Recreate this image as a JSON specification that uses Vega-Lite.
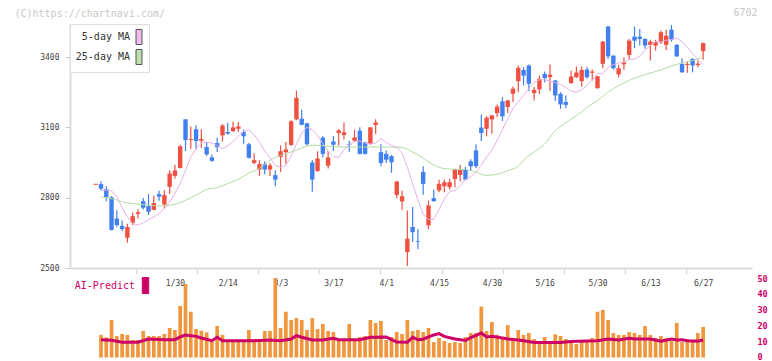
{
  "$schema": "https://vega.github.io/schema/vega-lite/v6.json",
  "width": 682,
  "height": 348,
  "autosize": {"type": "none"},
  "padding": {"left": 70, "top": 10, "right": 20, "bottom": 3},
  "background": "white",
  "config": {
    "view": {"stroke": null},
    "font": "DejaVu Sans Mono",
    "axis": {"labelFont": "DejaVu Sans Mono", "titleFont": "DejaVu Sans Mono"},
    "legend": {"labelFont": "DejaVu Sans Mono"}
  },
  "datasets": {
    "candles": [
      {"i":0,"o":2855,"h":2859,"l":2855,"c":2859},
      {"i":1,"o":2858,"h":2870,"l":2831,"c":2838},
      {"i":2,"o":2836,"h":2849,"l":2785,"c":2802},
      {"i":3,"o":2802,"h":2806,"l":2660,"c":2662},
      {"i":4,"o":2711,"h":2746,"l":2675,"c":2683},
      {"i":5,"o":2680,"h":2703,"l":2658,"c":2666},
      {"i":6,"o":2629,"h":2689,"l":2608,"c":2675},
      {"i":7,"o":2693,"h":2737,"l":2683,"c":2721},
      {"i":8,"o":2731,"h":2751,"l":2711,"c":2738},
      {"i":9,"o":2785,"h":2799,"l":2750,"c":2757},
      {"i":10,"o":2764,"h":2815,"l":2726,"c":2740},
      {"i":11,"o":2748,"h":2808,"l":2746,"c":2777},
      {"i":12,"o":2815,"h":2830,"l":2787,"c":2804},
      {"i":13,"o":2771,"h":2832,"l":2754,"c":2811},
      {"i":14,"o":2846,"h":2917,"l":2816,"c":2903},
      {"i":15,"o":2893,"h":2941,"l":2882,"c":2916},
      {"i":16,"o":2927,"h":3026,"l":2924,"c":3019},
      {"i":17,"o":3134,"h":3136,"l":2999,"c":3046},
      {"i":18,"o":3046,"h":3104,"l":3009,"c":3050},
      {"i":19,"o":3092,"h":3109,"l":3004,"c":3042},
      {"i":20,"o":3043,"h":3092,"l":3012,"c":3050},
      {"i":21,"o":3016,"h":3038,"l":2978,"c":2985},
      {"i":22,"o":2972,"h":2984,"l":2953,"c":2957},
      {"i":23,"o":3033,"h":3056,"l":2995,"c":3016},
      {"i":24,"o":3066,"h":3114,"l":3040,"c":3108},
      {"i":25,"o":3080,"h":3120,"l":3069,"c":3073},
      {"i":26,"o":3084,"h":3125,"l":3080,"c":3100},
      {"i":27,"o":3094,"h":3123,"l":3080,"c":3104},
      {"i":28,"o":3080,"h":3091,"l":3030,"c":3062},
      {"i":29,"o":3028,"h":3033,"l":2967,"c":2970},
      {"i":30,"o":2948,"h":2988,"l":2943,"c":2960},
      {"i":31,"o":2920,"h":2960,"l":2893,"c":2943},
      {"i":32,"o":2943,"h":2955,"l":2900,"c":2920},
      {"i":33,"o":2920,"h":2948,"l":2893,"c":2938},
      {"i":34,"o":2896,"h":2917,"l":2849,"c":2877},
      {"i":35,"o":2974,"h":3023,"l":2910,"c":2998},
      {"i":36,"o":2994,"h":3038,"l":2945,"c":3006},
      {"i":37,"o":3025,"h":3130,"l":3021,"c":3126},
      {"i":38,"o":3134,"h":3257,"l":3130,"c":3226},
      {"i":39,"o":3137,"h":3175,"l":3109,"c":3111},
      {"i":40,"o":3117,"h":3120,"l":3023,"c":3028},
      {"i":41,"o":2950,"h":2960,"l":2825,"c":2877},
      {"i":42,"o":2914,"h":2998,"l":2910,"c":2967},
      {"i":43,"o":3056,"h":3062,"l":2971,"c":2987},
      {"i":44,"o":2936,"h":2999,"l":2924,"c":2971},
      {"i":45,"o":3040,"h":3062,"l":2999,"c":3026},
      {"i":46,"o":3076,"h":3093,"l":3023,"c":3087},
      {"i":47,"o":3067,"h":3121,"l":3048,"c":3079},
      {"i":48,"o":3029,"h":3043,"l":2996,"c":3026},
      {"i":49,"o":3043,"h":3090,"l":3039,"c":3057},
      {"i":50,"o":3086,"h":3100,"l":2984,"c":2987},
      {"i":51,"o":3036,"h":3039,"l":2984,"c":2987},
      {"i":52,"o":3029,"h":3102,"l":3026,"c":3100},
      {"i":53,"o":3110,"h":3135,"l":3072,"c":3121},
      {"i":54,"o":2994,"h":3028,"l":2934,"c":2948},
      {"i":55,"o":2987,"h":3001,"l":2948,"c":2962},
      {"i":56,"o":2977,"h":2982,"l":2906,"c":2951},
      {"i":57,"o":2812,"h":2871,"l":2798,"c":2869},
      {"i":58,"o":2784,"h":2831,"l":2748,"c":2806},
      {"i":59,"o":2568,"h":2745,"l":2509,"c":2625},
      {"i":60,"o":2675,"h":2760,"l":2611,"c":2653},
      {"i":61,"o":2615,"h":2665,"l":2580,"c":2612},
      {"i":62,"o":2909,"h":2934,"l":2812,"c":2859},
      {"i":63,"o":2682,"h":2788,"l":2665,"c":2767},
      {"i":64,"o":2798,"h":2835,"l":2783,"c":2785},
      {"i":65,"o":2831,"h":2876,"l":2823,"c":2859},
      {"i":66,"o":2849,"h":2876,"l":2823,"c":2866},
      {"i":67,"o":2845,"h":2880,"l":2835,"c":2866},
      {"i":68,"o":2880,"h":2923,"l":2845,"c":2920},
      {"i":69,"o":2897,"h":2940,"l":2869,"c":2920},
      {"i":70,"o":2920,"h":2931,"l":2875,"c":2877},
      {"i":71,"o":2955,"h":2964,"l":2914,"c":2934},
      {"i":72,"o":3002,"h":3028,"l":2927,"c":2934},
      {"i":73,"o":3099,"h":3155,"l":3042,"c":3076},
      {"i":74,"o":3094,"h":3148,"l":3062,"c":3141},
      {"i":75,"o":3134,"h":3153,"l":3073,"c":3151},
      {"i":76,"o":3161,"h":3198,"l":3144,"c":3189},
      {"i":77,"o":3211,"h":3229,"l":3127,"c":3147},
      {"i":78,"o":3187,"h":3217,"l":3161,"c":3215},
      {"i":79,"o":3243,"h":3274,"l":3208,"c":3265},
      {"i":80,"o":3297,"h":3364,"l":3250,"c":3354},
      {"i":81,"o":3345,"h":3357,"l":3279,"c":3321},
      {"i":82,"o":3364,"h":3368,"l":3255,"c":3286},
      {"i":83,"o":3246,"h":3272,"l":3215,"c":3260},
      {"i":84,"o":3262,"h":3321,"l":3243,"c":3307},
      {"i":85,"o":3328,"h":3338,"l":3293,"c":3310},
      {"i":86,"o":3314,"h":3368,"l":3255,"c":3325},
      {"i":87,"o":3300,"h":3302,"l":3212,"c":3236},
      {"i":88,"o":3243,"h":3250,"l":3179,"c":3198},
      {"i":89,"o":3208,"h":3236,"l":3182,"c":3196},
      {"i":90,"o":3289,"h":3342,"l":3286,"c":3317},
      {"i":91,"o":3314,"h":3360,"l":3311,"c":3334},
      {"i":92,"o":3297,"h":3360,"l":3274,"c":3345},
      {"i":93,"o":3347,"h":3357,"l":3307,"c":3314},
      {"i":94,"o":3333,"h":3347,"l":3300,"c":3338},
      {"i":95,"o":3267,"h":3320,"l":3265,"c":3318},
      {"i":96,"o":3371,"h":3468,"l":3352,"c":3466},
      {"i":97,"o":3530,"h":3534,"l":3392,"c":3403},
      {"i":98,"o":3406,"h":3408,"l":3347,"c":3352},
      {"i":99,"o":3326,"h":3367,"l":3314,"c":3352},
      {"i":100,"o":3369,"h":3399,"l":3345,"c":3377},
      {"i":101,"o":3409,"h":3477,"l":3392,"c":3470},
      {"i":102,"o":3487,"h":3530,"l":3438,"c":3470},
      {"i":103,"o":3487,"h":3520,"l":3449,"c":3477},
      {"i":104,"o":3477,"h":3480,"l":3435,"c":3449},
      {"i":105,"o":3452,"h":3474,"l":3385,"c":3466},
      {"i":106,"o":3449,"h":3474,"l":3428,"c":3463},
      {"i":107,"o":3463,"h":3513,"l":3456,"c":3506},
      {"i":108,"o":3452,"h":3517,"l":3430,"c":3491},
      {"i":109,"o":3517,"h":3537,"l":3466,"c":3474},
      {"i":110,"o":3452,"h":3456,"l":3401,"c":3403},
      {"i":111,"o":3371,"h":3395,"l":3333,"c":3335},
      {"i":112,"o":3366,"h":3381,"l":3333,"c":3371},
      {"i":113,"o":3392,"h":3395,"l":3335,"c":3364},
      {"i":114,"o":3366,"h":3385,"l":3357,"c":3372},
      {"i":115,"o":3425,"h":3462,"l":3389,"c":3460}
    ],
    "ma5": [
      {"i":1,"v":2832},{"i":2,"v":2832},{"i":3,"v":2829},{"i":4,"v":2803},{"i":5,"v":2758},
      {"i":6,"v":2718},{"i":7,"v":2690},{"i":8,"v":2683},{"i":9,"v":2693},{"i":10,"v":2707},
      {"i":11,"v":2718},{"i":12,"v":2733},{"i":13,"v":2754},{"i":14,"v":2782},{"i":15,"v":2818},
      {"i":16,"v":2861},{"i":17,"v":2914},{"i":18,"v":2974},{"i":19,"v":3009},{"i":20,"v":3033},
      {"i":21,"v":3037},{"i":22,"v":3033},{"i":23,"v":3023},{"i":24,"v":3009},{"i":25,"v":3021},
      {"i":26,"v":3040},{"i":27,"v":3062},{"i":28,"v":3082},{"i":29,"v":3090},{"i":30,"v":3068},
      {"i":31,"v":3037},{"i":32,"v":2999},{"i":33,"v":2969},{"i":34,"v":2938},{"i":35,"v":2930},
      {"i":36,"v":2938},{"i":37,"v":2977},{"i":38,"v":3028},{"i":39,"v":3076},{"i":40,"v":3101},
      {"i":41,"v":3090},{"i":42,"v":3066},{"i":43,"v":3031},{"i":44,"v":2998},{"i":45,"v":2974},
      {"i":46,"v":2972},{"i":47,"v":3005},{"i":48,"v":3026},{"i":49,"v":3039},{"i":50,"v":3042},
      {"i":51,"v":3033},{"i":52,"v":3029},{"i":53,"v":3033},{"i":54,"v":3053},{"i":55,"v":3036},
      {"i":56,"v":3022},{"i":57,"v":3015},{"i":58,"v":2990},{"i":59,"v":2930},{"i":60,"v":2860},
      {"i":61,"v":2790},{"i":62,"v":2730},{"i":63,"v":2707},{"i":64,"v":2707},{"i":65,"v":2750},
      {"i":66,"v":2795},{"i":67,"v":2826},{"i":68,"v":2831},{"i":69,"v":2852},{"i":70,"v":2878},
      {"i":71,"v":2889},{"i":72,"v":2910},{"i":73,"v":2938},{"i":74,"v":2974},{"i":75,"v":3002},
      {"i":76,"v":3045},{"i":77,"v":3090},{"i":78,"v":3137},{"i":79,"v":3180},{"i":80,"v":3208},
      {"i":81,"v":3236},{"i":82,"v":3265},{"i":83,"v":3293},{"i":84,"v":3303},{"i":85,"v":3303},
      {"i":86,"v":3297},{"i":87,"v":3291},{"i":88,"v":3283},{"i":89,"v":3271},{"i":90,"v":3254},
      {"i":91,"v":3250},{"i":92,"v":3260},{"i":93,"v":3279},{"i":94,"v":3301},{"i":95,"v":3330},
      {"i":96,"v":3330},{"i":97,"v":3356},{"i":98,"v":3368},{"i":99,"v":3375},{"i":100,"v":3378},
      {"i":101,"v":3390},{"i":102,"v":3391},{"i":103,"v":3404},{"i":104,"v":3429},{"i":105,"v":3449},
      {"i":106,"v":3466},{"i":107,"v":3465},{"i":108,"v":3472},{"i":109,"v":3475},{"i":110,"v":3480},
      {"i":111,"v":3467},{"i":112,"v":3442},{"i":113,"v":3415},{"i":114,"v":3389},{"i":115,"v":3369}
    ],
    "ma25": [
      {"i":1,"v":2803},{"i":4,"v":2790},{"i":5,"v":2782},{"i":7,"v":2775},{"i":10,"v":2768},
      {"i":12,"v":2765},{"i":15,"v":2772},{"i":17,"v":2789},{"i":19,"v":2811},{"i":21,"v":2835},
      {"i":23,"v":2843},{"i":25,"v":2860},{"i":27,"v":2878},{"i":29,"v":2905},{"i":31,"v":2925},
      {"i":33,"v":2960},{"i":35,"v":2980},{"i":37,"v":2995},{"i":39,"v":3012},{"i":41,"v":3024},
      {"i":43,"v":3022},{"i":45,"v":3018},{"i":48,"v":3016},{"i":52,"v":3016},{"i":56,"v":3016},
      {"i":58,"v":3014},{"i":60,"v":2995},{"i":62,"v":2968},{"i":64,"v":2940},{"i":66,"v":2924},
      {"i":68,"v":2921},{"i":70,"v":2920},{"i":72,"v":2908},{"i":74,"v":2895},{"i":76,"v":2900},
      {"i":78,"v":2915},{"i":80,"v":2935},{"i":81,"v":2960},{"i":83,"v":2995},{"i":85,"v":3030},
      {"i":87,"v":3085},{"i":89,"v":3120},{"i":91,"v":3150},{"i":93,"v":3185},{"i":95,"v":3215},
      {"i":97,"v":3250},{"i":99,"v":3278},{"i":101,"v":3300},{"i":103,"v":3318},{"i":105,"v":3332},
      {"i":107,"v":3345},{"i":109,"v":3362},{"i":111,"v":3375},{"i":113,"v":3385},{"i":115,"v":3400}
    ],
    "vol": [
      {"i":1,"v":14.2},{"i":2,"v":12.7},{"i":3,"v":23.6},{"i":4,"v":13.5},{"i":5,"v":14.8},
      {"i":6,"v":14.2},{"i":7,"v":11.0},{"i":8,"v":11.0},{"i":9,"v":16.7},{"i":10,"v":13.5},
      {"i":11,"v":13.5},{"i":12,"v":13.5},{"i":13,"v":14.8},{"i":14,"v":18.6},{"i":15,"v":17.3},
      {"i":16,"v":32.4},{"i":17,"v":46.2},{"i":18,"v":28.8},{"i":19,"v":17.9},{"i":20,"v":16.9},
      {"i":21,"v":15.8},{"i":22,"v":11.0},{"i":23,"v":19.8},{"i":24,"v":14.2},{"i":25,"v":11.0},
      {"i":26,"v":11.0},{"i":27,"v":11.0},{"i":28,"v":11.0},{"i":29,"v":17.3},{"i":30,"v":11.6},
      {"i":31,"v":11.6},{"i":32,"v":16.7},{"i":33,"v":16.7},{"i":34,"v":50},{"i":35,"v":18.6},
      {"i":36,"v":28.8},{"i":37,"v":23.6},{"i":38,"v":24.8},{"i":39,"v":23.6},{"i":40,"v":17.3},
      {"i":41,"v":24.8},{"i":42,"v":17.9},{"i":43,"v":21.1},{"i":44,"v":16.7},{"i":45,"v":16.0},
      {"i":46,"v":11.0},{"i":47,"v":11.0},{"i":48,"v":21.1},{"i":49,"v":11.0},{"i":50,"v":12.9},
      {"i":51,"v":13.5},{"i":52,"v":23.6},{"i":53,"v":21.7},{"i":54,"v":23.0},{"i":55,"v":11.0},
      {"i":56,"v":12.9},{"i":57,"v":16.0},{"i":58,"v":14.8},{"i":59,"v":23.6},{"i":60,"v":16.7},
      {"i":61,"v":17.3},{"i":62,"v":16.0},{"i":63,"v":18.6},{"i":64,"v":9.7},{"i":65,"v":12.3},
      {"i":66,"v":10.4},{"i":67,"v":9.1},{"i":68,"v":9.7},{"i":69,"v":9.1},{"i":70,"v":12.9},
      {"i":71,"v":15.4},{"i":72,"v":15.4},{"i":73,"v":32.0},{"i":74,"v":16.7},{"i":75,"v":22.3},
      {"i":76,"v":14.2},{"i":77,"v":12.9},{"i":78,"v":20.4},{"i":79,"v":12.3},{"i":80,"v":17.3},
      {"i":81,"v":14.2},{"i":82,"v":15.4},{"i":83,"v":11.6},{"i":84,"v":10.4},{"i":85,"v":12.9},
      {"i":86,"v":10.4},{"i":87,"v":14.6},{"i":88,"v":13.5},{"i":89,"v":11.6},{"i":90,"v":10.4},
      {"i":91,"v":8.5},{"i":92,"v":10.4},{"i":93,"v":10.4},{"i":94,"v":12.3},{"i":95,"v":28.8},
      {"i":96,"v":29.9},{"i":97,"v":23.6},{"i":98,"v":15.4},{"i":99,"v":14.2},{"i":100,"v":14.2},
      {"i":101,"v":16.0},{"i":102,"v":15.4},{"i":103,"v":14.2},{"i":104,"v":19.8},{"i":105,"v":14.2},
      {"i":106,"v":12.3},{"i":107,"v":13.5},{"i":108,"v":12.3},{"i":109,"v":10.4},{"i":110,"v":21.7},
      {"i":111,"v":9.7},{"i":112,"v":11.6},{"i":113,"v":10.4},{"i":114,"v":15.4},{"i":115,"v":19.2}
    ],
    "ai": [
      {"i":1,"a":11.2},{"i":3,"a":10.8},{"i":5,"a":9.6},{"i":8,"a":9.6},{"i":9,"a":10.6},
      {"i":10,"a":11.6},{"i":13,"a":11.2},{"i":15,"a":11.2},{"i":16,"a":12.9},{"i":17,"a":14.2},
      {"i":19,"a":13.3},{"i":20,"a":12.3},{"i":22,"a":10.6},{"i":23,"a":12.7},{"i":24,"a":10.6},
      {"i":27,"a":10.6},{"i":30,"a":10.6},{"i":33,"a":11.0},{"i":35,"a":10.6},{"i":37,"a":11.6},
      {"i":38,"a":13.7},{"i":39,"a":12.7},{"i":41,"a":11.0},{"i":43,"a":11.0},{"i":45,"a":12.1},
      {"i":46,"a":11.2},{"i":48,"a":11.2},{"i":50,"a":11.2},{"i":52,"a":12.7},{"i":53,"a":12.7},
      {"i":55,"a":12.9},{"i":56,"a":11.2},{"i":57,"a":9.8},{"i":59,"a":9.6},{"i":60,"a":12.7},
      {"i":61,"a":11.2},{"i":62,"a":11.5},{"i":63,"a":13.0},{"i":64,"a":14.2},{"i":65,"a":15.0},
      {"i":66,"a":13.3},{"i":68,"a":11.6},{"i":70,"a":10.7},{"i":71,"a":12.5},{"i":73,"a":15.4},
      {"i":74,"a":12.9},{"i":75,"a":13.3},{"i":77,"a":12.3},{"i":78,"a":11.6},{"i":80,"a":11.0},
      {"i":81,"a":10.6},{"i":83,"a":9.5},{"i":85,"a":9.5},{"i":88,"a":9.5},{"i":90,"a":10.0},
      {"i":93,"a":10.4},{"i":95,"a":10.6},{"i":97,"a":11.6},{"i":99,"a":11.0},{"i":101,"a":12.1},
      {"i":102,"a":11.6},{"i":105,"a":11.6},{"i":107,"a":10.3},{"i":109,"a":11.6},{"i":110,"a":11.0},
      {"i":111,"a":11.2},{"i":112,"a":10.6},{"i":114,"a":10.3},{"i":115,"a":11.0}
    ],
    "malegend": [{"s": "5-day MA"}, {"s": "25-day MA"}],
    "ailegend": [{"s": "AI-Predict"}]
  },
  "encoding": {
    "x": {
      "field": "i",
      "type": "quantitative",
      "title": null,
      "scale": {"domain": [-3.92, 123.3], "nice": false, "zero": false},
      "axis": {
        "orient": "bottom",
        "offset": -90,
        "values": [7.645, 19.21, 30.775, 42.34, 53.905, 65.47, 77.035, 88.6, 100.165, 111.73, 15, 25, 35, 45, 55, 65, 75, 85, 95, 105, 115],
        "labelExpr": "datum.value == round(datum.value) ? ['1/30','2/14','3/3','3/17','4/1','4/15','4/30','5/16','5/30','6/13','6/27'][(datum.value - 15) / 10] : ''",
        "tickOpacity": {"condition": {"test": "datum.value == round(datum.value)", "value": 0}, "value": 1},
        "grid": false,
        "domainColor": "#dddddd",
        "domainWidth": 2,
        "tickColor": "#dddddd",
        "tickWidth": 1.5,
        "tickSize": 6,
        "labelFontSize": 8,
        "labelColor": "#444444",
        "labelPadding": 5,
        "labelOverlap": false,
        "labelFlush": false
      }
    }
  },
  "resolve": {"scale": {"y": "independent"}},
  "layer": [
    {
      "layer": [
        {
          "data": {"name": "candles"},
          "mark": {"type": "rule", "strokeWidth": 1.2},
          "encoding": {
            "y": {
              "field": "l",
              "type": "quantitative",
              "title": "(C)https://chartnavi.com/",
              "scale": {"domain": [2500, 3541], "range": [258, 14], "nice": false, "zero": false},
              "axis": {
                "orient": "left",
                "values": [2500, 2800, 3100, 3400],
                "format": "d",
                "grid": false,
                "domainColor": "#dddddd",
                "domainWidth": 2,
                "tickColor": "#cccccc",
                "tickSize": 5,
                "labelFontSize": 8,
                "labelColor": "#444444",
                "labelPadding": 6,
                "titleAngle": 0,
                "titleAlign": "left",
                "titleBaseline": "middle",
                "titleX": -56,
                "titleY": 3,
                "titleColor": "#c8c8c8",
                "titleFontSize": 10,
                "titleFontWeight": "normal"
              }
            },
            "y2": {"field": "h"},
            "color": {"condition": {"test": "datum.c >= datum.o", "value": "#f05040"}, "value": "#4080f0"}
          }
        },
        {
          "data": {"name": "candles"},
          "mark": {"type": "bar", "width": 4.4},
          "encoding": {
            "y": {"field": "o", "type": "quantitative", "title": "(C)https://chartnavi.com/"},
            "y2": {"field": "c"},
            "color": {"condition": {"test": "datum.c >= datum.o", "value": "#f05040"}, "value": "#4080f0"}
          }
        },
        {
          "data": {"name": "ma25"},
          "mark": {"type": "line", "strokeWidth": 1, "interpolate": "monotone", "color": "#b4dba4"},
          "encoding": {
            "y": {"field": "v", "type": "quantitative", "title": "(C)https://chartnavi.com/"}
          }
        },
        {
          "data": {"name": "ma5"},
          "mark": {"type": "line", "strokeWidth": 1, "color": "#e6b2e6"},
          "encoding": {
            "y": {"field": "v", "type": "quantitative", "title": "(C)https://chartnavi.com/"}
          }
        },
        {
          "data": {"name": "malegend"},
          "mark": {"type": "square", "filled": true, "opacity": 1},
          "encoding": {
            "y": {"field": "v", "type": "quantitative", "title": "(C)https://chartnavi.com/"},
            "color": {
              "field": "s",
              "type": "nominal",
              "scale": {"domain": ["5-day MA", "25-day MA"], "range": ["#eebdee", "#bcdfae"]},
              "legend": {
                "orient": "none",
                "legendX": 0,
                "legendY": 14,
                "direction": "vertical",
                "title": null,
                "fillColor": "white",
                "strokeColor": "#dddddd",
                "padding": 5,
                "symbolType": "M-0.4,-1L0.4,-1L0.4,1L-0.4,1Z",
                "symbolSize": 225,
                "symbolStrokeColor": "#555555",
                "symbolStrokeWidth": 1,
                "symbolOpacity": 1,
                "labelFontSize": 10,
                "labelColor": "#333333",
                "labelAlign": "right",
                "labelOffset": -17,
                "symbolOffset": 56,
                "rowPadding": 0
              }
            }
          }
        }
      ]
    },
    {
      "layer": [
        {
          "data": {"name": "vol"},
          "mark": {"type": "bar", "width": 3.7, "color": "#f0963e"},
          "encoding": {
            "y": {
              "field": "v",
              "type": "quantitative",
              "title": "6702",
              "scale": {"domain": [0, 50], "range": [347.5, 268], "nice": false},
              "axis": {
                "orient": "right",
                "values": [0, 10, 20, 30, 40, 50],
                "grid": false,
                "domain": false,
                "ticks": false,
                "labelFontSize": 8.5,
                "labelFontWeight": "bold",
                "labelColor": "#cc0066",
                "labelPadding": 5,
                "labelBaseline": "middle",
                "labelOffset": {"condition": {"test": "datum.value == 0", "value": -1.5}, "value": 0},
                "titleAngle": 0,
                "titleAlign": "right",
                "titleBaseline": "middle",
                "titleX": 5,
                "titleY": 2,
                "titleColor": "#c8c8c8",
                "titleFontSize": 10,
                "titleFontWeight": "normal"
              }
            }
          }
        },
        {
          "data": {"name": "ai"},
          "mark": {"type": "line", "strokeWidth": 3, "color": "#cc0066"},
          "encoding": {
            "y": {"field": "a", "type": "quantitative", "title": "6702"}
          }
        },
        {
          "data": {"name": "ailegend"},
          "mark": {"type": "square", "filled": true, "opacity": 1},
          "encoding": {
            "y": {"field": "a", "type": "quantitative", "title": "6702"},
            "fill": {
              "field": "s",
              "type": "nominal",
              "scale": {"domain": ["AI-Predict"], "range": ["#cc0066"]},
              "legend": {
                "orient": "none",
                "legendX": 5,
                "legendY": 267,
                "title": null,
                "padding": 0,
                "symbolType": "M-0.4,-1L0.4,-1L0.4,1L-0.4,1Z",
                "symbolSize": 256,
                "symbolStrokeColor": "#cc0066",
                "symbolStrokeWidth": 1,
                "symbolOpacity": 1,
                "labelFontSize": 10,
                "labelColor": "#cc0066",
                "labelAlign": "right",
                "labelOffset": -19,
                "symbolOffset": 62
              }
            }
          }
        }
      ]
    }
  ]
}
